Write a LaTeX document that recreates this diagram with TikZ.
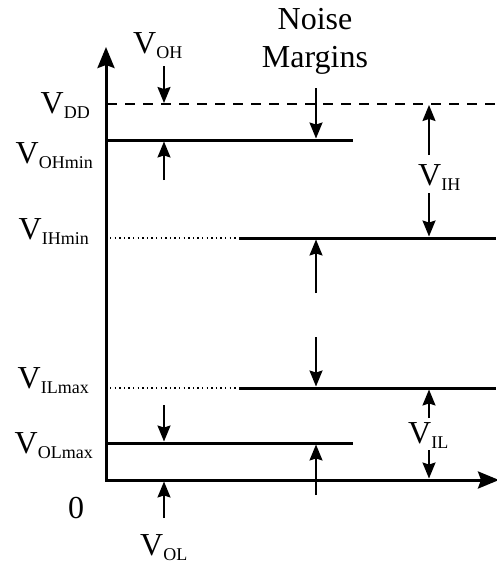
\documentclass[tikz,border=0pt]{standalone}
\usepackage{fontspec}
\setmainfont{Liberation Serif}
\usetikzlibrary{arrows.meta}

\newcommand{\vlab}[1]{V\raisebox{-5pt}{\fontsize{18}{18}\selectfont #1}}

\begin{document}
\begin{tikzpicture}[
  x=1pt,y=-1pt,
  axis/.style={line width=3pt,line join=miter,
    {Stealth[length=21pt,width=17pt,inset=3pt]}-{Stealth[length=21pt,width=17pt,inset=3pt]}},
  level/.style={line width=3pt},
  vddline/.style={line width=1.7pt,dash pattern=on 10pt off 8pt},
  thinline/.style={line width=1.3pt,dash pattern=on 1.4pt off 3.2pt},
  margin/.style={line width=1.7pt,-{Stealth[length=16pt,width=13pt,inset=2pt]}},
  lbl/.style={font=\fontsize{32}{38}\selectfont,inner sep=0pt}
]
  \useasboundingbox (0,0) rectangle (496,563);

  % axes
  \coordinate (ytip) at (106,47);
  \coordinate (orig) at (106,480);
  \coordinate (xtip) at (499,480);
  \draw[axis] (ytip) -- (orig) -- (xtip);

  % levels
  \coordinate (vdd-a) at (107,104);
  \coordinate (vdd-b) at (496,104);
  \coordinate (ohm-a) at (106,140);
  \coordinate (ohm-b) at (353,140);
  \coordinate (ihm-a) at (110,238);
  \coordinate (ihm-m) at (239,238);
  \coordinate (ihm-b) at (496,238);
  \coordinate (ilm-a) at (110,388);
  \coordinate (ilm-m) at (239,388);
  \coordinate (ilm-b) at (496,388);
  \coordinate (olm-a) at (106,443);
  \coordinate (olm-b) at (353,443);
  \draw[vddline] (vdd-a) -- (vdd-b);
  \draw[level] (ohm-a) -- (ohm-b);
  \draw[thinline] (ihm-a) -- (ihm-m);
  \draw[level] (ihm-m) -- (ihm-b);
  \draw[thinline] (ilm-a) -- (ilm-m);
  \draw[level] (ilm-m) -- (ilm-b);
  \draw[level] (olm-a) -- (olm-b);

  % level labels
  \node[lbl,anchor=base east] (vdd) at (90,113) {\vlab{DD}};
  \node[lbl,anchor=base east] (vohmin) at (93,163) {\vlab{OHmin}};
  \node[lbl,anchor=base east] (vihmin) at (89,239) {\vlab{IHmin}};
  \node[lbl,anchor=base east] (vilmax) at (89,388) {\vlab{ILmax}};
  \node[lbl,anchor=base east] (volmax) at (93,453) {\vlab{OLmax}};
  \node[lbl,anchor=base] (zero) at (76,518) {0};

  % margin labels
  \node[lbl,anchor=base west] (voh) at (133,53) {\vlab{OH}};
  \node[lbl,anchor=base west] (vol) at (140,555) {\vlab{OL}};
  \node[lbl,anchor=base west] (vih) at (418,185) {\vlab{IH}};
  \node[lbl,anchor=base west] (vil) at (408,443) {\vlab{IL}};
  \node[lbl,anchor=north,align=center] (noise) at (315,8) {Noise\\Margins};

  % V_OH
  \coordinate (voh-t) at (164,66);
  \coordinate (voh-h) at (164,103);
  \coordinate (vohm-t) at (164,180);
  \coordinate (vohm-h) at (164,141.5);
  \draw[margin] (voh-t) -- (voh-h);
  \draw[margin] (vohm-t) -- (vohm-h);

  % V_OL
  \coordinate (volm-t) at (164,405);
  \coordinate (volm-h) at (164,441.5);
  \coordinate (vol-t) at (164,518);
  \coordinate (vol-h) at (164,481.5);
  \draw[margin] (volm-t) -- (volm-h);
  \draw[margin] (vol-t) -- (vol-h);

  % noise margins
  \coordinate (nmh-t) at (316,88);
  \coordinate (nmh-h) at (316,138.5);
  \coordinate (nmhb-t) at (316,293);
  \coordinate (nmhb-h) at (316,239.5);
  \coordinate (nml-t) at (316,337);
  \coordinate (nml-h) at (316,386.5);
  \coordinate (nmlb-t) at (316,495);
  \coordinate (nmlb-h) at (316,444.5);
  \draw[margin] (nmh-t) -- (nmh-h);
  \draw[margin] (nmhb-t) -- (nmhb-h);
  \draw[margin] (nml-t) -- (nml-h);
  \draw[margin] (nmlb-t) -- (nmlb-h);

  % V_IH and V_IL
  \coordinate (vih-a) at (429,155);
  \coordinate (vih-ah) at (429,105);
  \coordinate (vih-b) at (429,193);
  \coordinate (vih-bh) at (429,236.5);
  \coordinate (vil-a) at (429,418);
  \coordinate (vil-ah) at (429,389.5);
  \coordinate (vil-b) at (429,450);
  \coordinate (vil-bh) at (429,478.5);
  \draw[margin] (vih-a) -- (vih-ah);
  \draw[margin] (vih-b) -- (vih-bh);
  \draw[margin] (vil-a) -- (vil-ah);
  \draw[margin] (vil-b) -- (vil-bh);
\end{tikzpicture}
\end{document}
